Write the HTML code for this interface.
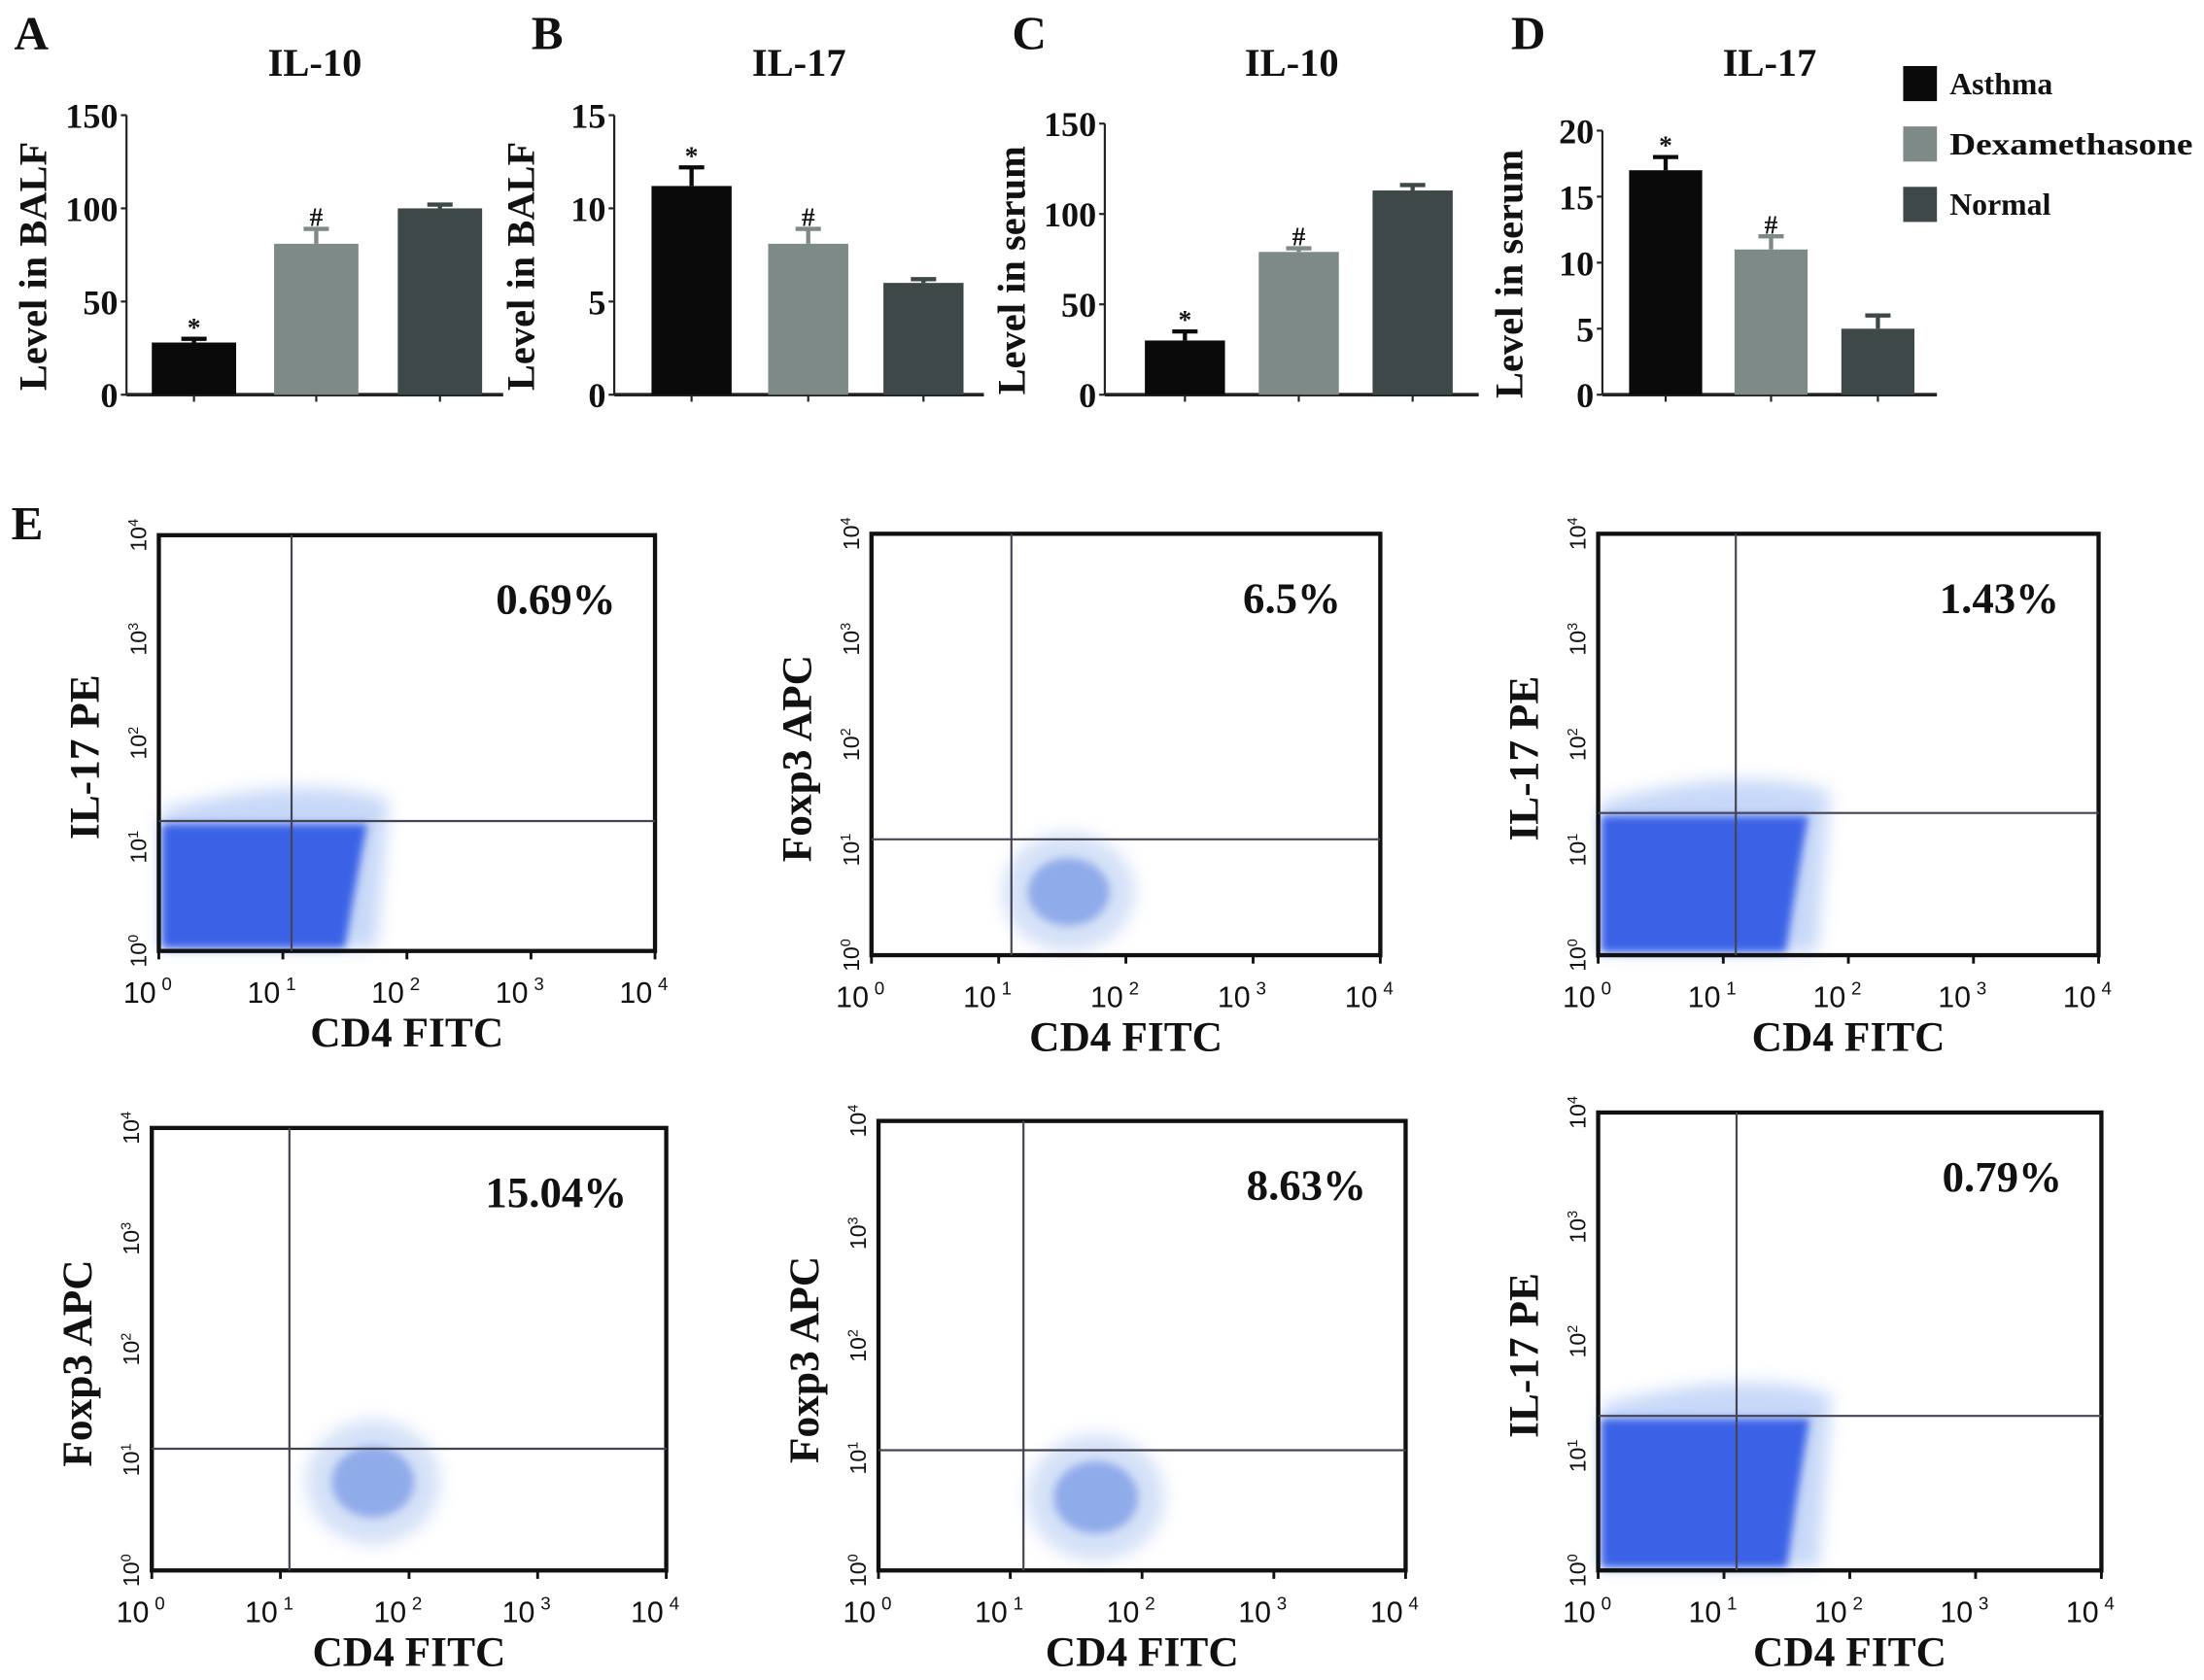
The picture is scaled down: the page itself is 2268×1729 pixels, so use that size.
<!DOCTYPE html>
<html><head><meta charset="utf-8"><style>
html,body{margin:0;padding:0;background:#fff;width:2268px;height:1729px;overflow:hidden}
svg{display:block}
text{font-family:"Liberation Serif",serif;font-weight:bold;fill:#111}
.sans{font-family:"Liberation Sans",sans-serif;font-weight:normal}
</style></head><body>
<svg id="fig" width="2268" height="1729" viewBox="0 0 1568 1196" preserveAspectRatio="none" xmlns="http://www.w3.org/2000/svg">
<defs>
<filter id="blur" x="-20%" y="-20%" width="140%" height="140%"><feGaussianBlur stdDeviation="3"/></filter>
<filter id="blur2" x="-30%" y="-30%" width="160%" height="160%"><feGaussianBlur stdDeviation="6"/></filter>
</defs>
<g id="bars"></g>
<g id="legend">
<rect x="1354" y="47" width="24" height="25" fill="#0a0a0a"/>
<text x="1387" y="67" font-size="22">Asthma</text>
<rect x="1354" y="90" width="24" height="25" fill="#7d8a88"/>
<text x="1387" y="110" font-size="22" textLength="173" lengthAdjust="spacingAndGlyphs">Dexamethasone</text>
<rect x="1354" y="133" width="24" height="25" fill="#3e4849"/>
<text x="1387" y="153" font-size="22">Normal</text>
</g>
<text x="8" y="384" font-size="34">E</text>
<g id="flow"></g>
</svg>
<script>
const NS='http://www.w3.org/2000/svg';
const svg=document.getElementById('fig');
function mk(tag,attrs,parent,txt){const e=document.createElementNS(NS,tag);for(const k in attrs)e.setAttribute(k,attrs[k]);if(txt!==undefined)e.textContent=txt;(parent||svg).appendChild(e);return e;}

// ---- bar chart data ----
const groups=['Asthma','Dexamethasone','Normal'];
const colors=['#0a0a0a','#7d8a88','#3e4849'];
const valsA=[28,81,100], errA=[2,8,2];
const valsB=[11.2,8.1,6.0], errB=[1.0,0.8,0.2];
const valsC=[30,79,113], errC=[5,2,3];
const valsD=[17,11,5], errD=[1,1,1];
const ticksA=[0,50,100,150], ticksB=[0,5,10,15], ticksC=[0,50,100,150], ticksD=[0,5,10,15,20];
const marksA=['*','#',''], marksB=['*','#',''], marksC=['*','#',''], marksD=['*','#',''];

const panels=[
 {id:'a',letter:'A',lx:10,title:'IL-10',ylab:'Level in BALF',ax:90,top:82,bot:281,xend:358,centers:[138,225,313],bw:60,vals:valsA,errs:errA,ticks:ticksA,marks:marksA},
 {id:'b',letter:'B',lx:378,title:'IL-17',ylab:'Level in BALF',ax:437,top:82,bot:281,xend:700,centers:[492,575,657],bw:57,vals:valsB,errs:errB,ticks:ticksB,marks:marksB},
 {id:'c',letter:'C',lx:720,title:'IL-10',ylab:'Level in serum',ax:786,top:88,bot:281,xend:1052,centers:[843,924,1005],bw:57,vals:valsC,errs:errC,ticks:ticksC,marks:marksC},
 {id:'d',letter:'D',lx:1075,title:'IL-17',ylab:'Level in serum',ax:1140,top:93,bot:281,xend:1378,centers:[1185,1260,1336],bw:52,vals:valsD,errs:errD,ticks:ticksD,marks:marksD}
];
const barsG=document.getElementById('bars');
panels.forEach(p=>{
 const g=mk('g',{},barsG);
 
 
 const max=p.ticks[p.ticks.length-1];
 const y=v=>p.bot-(v/max)*(p.bot-p.top);
 let t=mk('text',{x:p.lx,y:35,'font-size':34},g,p.letter);
 
 
 t=mk('text',{x:(p.ax+p.xend)/2,y:54,'font-size':28,'text-anchor':'middle'},g,p.title);
 
 
 t=mk('text',{x:0,y:0,'font-size':28,'text-anchor':'middle',transform:`translate(${p.ax-57},${(p.top+p.bot)/2+8}) rotate(-90)`},g,p.ylab);
 
 
 let l=mk('line',{x1:p.ax,y1:p.top,x2:p.ax,y2:p.bot,stroke:'#222','stroke-width':1.5},g);
 
 
 l=mk('line',{x1:p.ax,y1:p.bot,x2:p.xend,y2:p.bot,stroke:'#222','stroke-width':2.5},g);
 
 
 p.ticks.forEach(v=>{
  mk('line',{x1:p.ax-4,y1:y(v),x2:p.ax,y2:y(v),stroke:'#222','stroke-width':1.5},g);
  const tt=mk('text',{x:p.ax-6,y:y(v)+9,'font-size':25,'text-anchor':'end'},g,v);
  
  
 });
 p.vals.forEach((v,i)=>{
  const cx=p.centers[i];
  const r=mk('rect',{x:cx-p.bw/2,y:y(v),width:p.bw,height:p.bot-y(v),fill:colors[i]},g);
  
  
  const e=p.errs[i];
  const eb=mk('path',{d:`M${cx},${y(v)} V${y(v+e)} M${cx-9},${y(v+e)} H${cx+9}`,stroke:colors[i],'stroke-width':3,fill:'none'},g);
  
  
  mk('line',{x1:cx,y1:p.bot,x2:cx,y2:p.bot+5,stroke:'#222','stroke-width':1.5},g);
  if(p.marks[i]){const m=mk('text',{x:cx,y:y(v+e)-2,'font-size':19,'text-anchor':'middle'},g,p.marks[i]);
   
   }
 });
});

// ---- flow cytometry panels ----
const flowPct=['0.69%','6.5%','1.43%','15.04%','8.63%','0.79%'];
const flowYLabels=['IL-17 PE','Foxp3 APC','IL-17 PE','Foxp3 APC','Foxp3 APC','IL-17 PE'];
const flowQx=[1.07,1.1,1.1,1.07,1.1,1.1]; // log10 position of vertical gate
const flowQy=[1.25,1.1,1.35,1.1,1.07,1.35]; // log10 position of horizontal gate
const flowTicks=['0','1','2','3','4'];
const boxes=[
 {x0:113,y0:381,x1:466,y1:677,type:'dense'},
 {x0:620,y0:380,x1:982,y1:680,type:'sparse',cx:1.55,cy:0.6},
 {x0:1137,y0:380,x1:1493,y1:680,type:'dense'},
 {x0:108,y0:803,x1:474,y1:1118,type:'sparse',cx:1.72,cy:0.8},
 {x0:625,y0:798,x1:1000,y1:1118,type:'sparse',cx:1.65,cy:0.65}
,{x0:1137,y0:792,x1:1495,y1:1118,type:'dense'}
];
const flowG=document.getElementById('flow');
boxes.forEach((b,i)=>{
 const g=mk('g',{},flowG);
 
 
 const X=v=>b.x0+v/4*(b.x1-b.x0), Y=v=>b.y1-v/4*(b.y1-b.y0);
 if(b.type=='dense'){
  const hy=Y(flowQy[i]);
  mk('path',{d:`M${b.x0+2},${hy-8} Q${X(1.2)},${hy-35} ${X(1.85)},${hy-15} L${X(1.75)},${b.y1-2} L${b.x0+2},${b.y1-2}Z`,fill:'#9ab8f2',opacity:0.55,filter:'url(#blur2)'},g);
  const c=mk('path',{d:`M${b.x0+2},${hy+2} L${X(1.68)},${hy+2} Q${X(1.58)},${(hy+b.y1)/2} ${X(1.5)},${b.y1-2} L${b.x0+2},${b.y1-2}Z`,fill:'#3a62e6',filter:'url(#blur)'},g);
  
  
 } else {
  mk('ellipse',{cx:X(b.cx),cy:Y(b.cy),rx:(b.x1-b.x0)*0.13,ry:(b.y1-b.y0)*0.14,fill:'#b7ccf2',opacity:0.6,filter:'url(#blur2)'},g);
  const c=mk('ellipse',{cx:X(b.cx),cy:Y(b.cy),rx:(b.x1-b.x0)*0.08,ry:(b.y1-b.y0)*0.08,fill:'#5a80e0',opacity:0.55,filter:'url(#blur)'},g);
  
  
 }
 const r=mk('rect',{x:b.x0,y:b.y0,width:b.x1-b.x0,height:b.y1-b.y0,fill:'none',stroke:'#111','stroke-width':3},g);
 
 
 let l=mk('line',{x1:X(flowQx[i]),y1:b.y0,x2:X(flowQx[i]),y2:b.y1,stroke:'#445','stroke-width':1.5},g);
 
 
 l=mk('line',{x1:b.x0,y1:Y(flowQy[i]),x2:b.x1,y2:Y(flowQy[i]),stroke:'#445','stroke-width':1.5},g);
 
 
 let t=mk('text',{x:b.x1-28,y:b.y0+56,'font-size':31,'text-anchor':'end'},g,flowPct[i]);
 
 
 flowTicks.forEach((k,j)=>{
  const tx=mk('text',{x:X(j)-8,y:b.y1+37,'font-size':21,'text-anchor':'middle',class:'sans'},g);
  
  
  tx.appendChild(document.createTextNode('10'));
  const s=document.createElementNS(NS,'tspan');s.setAttribute('dx','4');s.setAttribute('dy','-9');s.setAttribute('font-size','13');s.textContent=k;tx.appendChild(s);
  const ty=mk('text',{x:0,y:0,'font-size':16,'text-anchor':'middle',class:'sans',transform:`translate(${b.x0-9},${Y(j)}) rotate(-90)`},g);
  
  
  ty.appendChild(document.createTextNode('10'));
  const s2=document.createElementNS(NS,'tspan');s2.setAttribute('dy','-6');s2.setAttribute('font-size','10');s2.textContent=k;ty.appendChild(s2);
  mk('line',{x1:X(j),y1:b.y1,x2:X(j),y2:b.y1+6,stroke:'#111','stroke-width':2},g);
 });
 t=mk('text',{x:(b.x0+b.x1)/2,y:b.y1+68,'font-size':30,'text-anchor':'middle'},g,'CD4 FITC');
 
 
 t=mk('text',{x:0,y:0,'font-size':30,'text-anchor':'middle',transform:`translate(${b.x0-43},${(b.y0+b.y1)/2+10}) rotate(-90)`},g,flowYLabels[i]);
 
 
});
</script>
</body></html>
